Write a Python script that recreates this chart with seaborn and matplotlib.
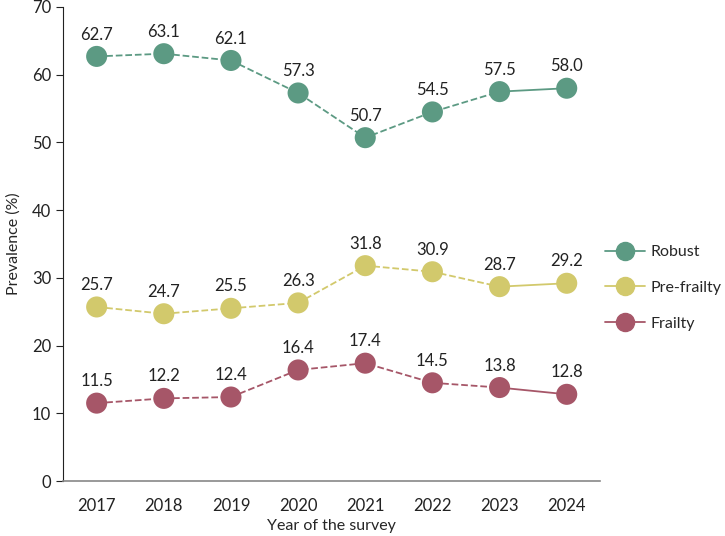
import matplotlib
matplotlib.use("Agg")
import matplotlib.pyplot as plt
import seaborn as sns
import pandas as pd
from matplotlib.lines import Line2D

years = [2017, 2018, 2019, 2020, 2021, 2022, 2023, 2024]
robust = [62.7, 63.1, 62.1, 57.3, 50.7, 54.5, 57.5, 58.0]
prefrailty = [25.7, 24.7, 25.5, 26.3, 31.8, 30.9, 28.7, 29.2]
frailty = [11.5, 12.2, 12.4, 16.4, 17.4, 14.5, 13.8, 12.8]
groups = ["Robust", "Pre-frailty", "Frailty"]
colors = ["#5c9a83", "#d2c96c", "#a65668"]

df = pd.DataFrame({"Year": years * 3,
                   "Group": sum([[g] * len(years) for g in groups], []),
                   "Prevalence": robust + prefrailty + frailty})

sns.set_style("white")
plt.rcParams['font.family'] = ['Lato', 'DejaVu Sans']

fig = plt.figure(figsize=(7.25, 5.36), dpi=100)
ax = fig.add_axes([0.087, 0.1026, 0.741, 0.8844])

pal = dict(zip(groups, colors))
early = df[df.Year <= 2023]
late = df[df.Year >= 2023]
sns.lineplot(data=early, x="Year", y="Prevalence", hue="Group", palette=pal,
             linestyle="--", linewidth=1.3, legend=False, ax=ax)
sns.lineplot(data=late, x="Year", y="Prevalence", hue="Group", palette=pal,
             linewidth=1.3, legend=False, ax=ax)
sns.scatterplot(data=df, x="Year", y="Prevalence", hue="Group", palette=pal,
                s=230, edgecolor="none", legend=False, ax=ax, zorder=5)

for _, r in df.iterrows():
    ax.annotate(f"{r.Prevalence:.1f}", (r.Year, r.Prevalence), xytext=(0, 10),
                textcoords="offset points", ha="center", va="bottom",
                fontsize=12, color="#222222")

ax.set_xlim(2016.5, 2024.5)
ax.set_ylim(0, 70)
ax.set_xticks(years)
ax.set_yticks(range(0, 71, 10))
ax.tick_params(axis="both", labelsize=12, colors="#222222")
ax.tick_params(axis="y", left=True, length=5, width=0.8, color="#222222")
ax.tick_params(axis="x", bottom=False, pad=9)
for s in ["top", "right"]:
    ax.spines[s].set_visible(False)
ax.spines["left"].set_color("#222222")
ax.spines["left"].set_linewidth(0.8)
ax.spines["bottom"].set_color("#888888")
ax.spines["bottom"].set_linewidth(1.2)
ax.set_xlabel("Year of the survey", fontsize=11.5, labelpad=3)
ax.set_ylabel("Prevalence (%)", fontsize=11.5, labelpad=8)

handles = [Line2D([0], [0], color=c, marker="o", markersize=13, lw=1.3)
           for c in colors]
fig.legend(handles, groups, loc="center left", bbox_to_anchor=(0.835, 0.463),
           frameon=False, fontsize=11.5, handlelength=2.5, handletextpad=0.3,
           labelspacing=1.35, borderpad=0, borderaxespad=0)

fig.savefig("out.png", dpi=100)
